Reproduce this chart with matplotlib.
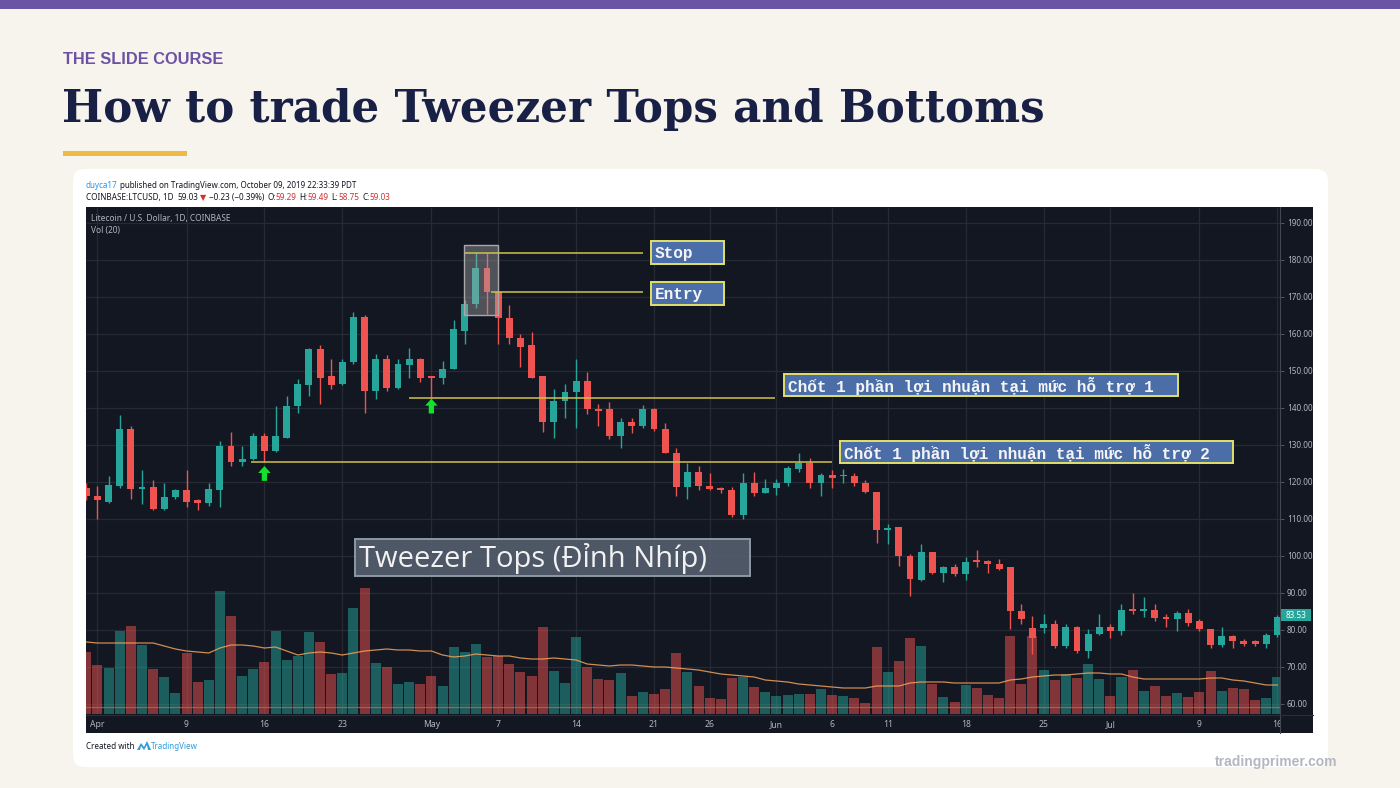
import numpy as np
import pandas as pd
import matplotlib
matplotlib.use('Agg')
import matplotlib.pyplot as plt
import matplotlib.transforms as mtransforms
from matplotlib.patches import Rectangle, FancyBboxPatch, Polygon

# LTC/USD daily candles (Coinbase), 31 Mar - 16 Jul 2019
dates = pd.date_range('2019-03-31', '2019-07-16', freq='D')
opens = [118.4, 116.2, 114.6, 118.9, 134.1, 118.1, 118.6, 112.7, 115.9, 117.6,
         114.9, 114.1, 117.8, 129.5, 125.4, 126.2, 132.4, 128.4, 131.9, 140.3,
         146.2, 155.7, 148.4, 146.5, 152.2, 164.6, 144.6, 153.2, 145.4, 151.6,
         153.2, 148.4, 148.1, 150.5, 160.8, 168.1, 177.6, 171.1, 164.3, 158.9,
         156.8, 148.4, 136.2, 141.9, 144.1, 147.3, 139.7, 139.5, 132.4, 136.2,
         134.9, 139.5, 134.3, 127.8, 118.6, 122.7, 118.9, 118.4, 117.8, 111.1,
         119.5, 117.0, 118.4, 119.5, 123.5, 125.1, 119.5, 121.9, 121.4, 121.6,
         119.7, 117.3, 107.0, 107.6, 100.0, 93.5, 101.1, 95.4, 96.8, 94.9,
         98.6, 98.6, 97.8, 96.8, 85.1, 80.5, 80.5, 81.6, 75.7, 80.8,
         74.1, 78.9, 80.8, 79.7, 85.7, 85.1, 85.4, 83.5, 83.0, 84.6,
         82.2, 80.3, 75.9, 78.4, 76.8, 76.8, 76.2, 78.6]
highs = [119.5, 118.9, 121.6, 138.1, 135.1, 123.0, 120.5, 119.7, 118.1, 123.0,
         115.4, 119.7, 131.1, 133.5, 129.7, 133.2, 133.0, 140.5, 143.2, 147.6,
         156.2, 157.0, 153.0, 153.0, 165.9, 164.9, 154.6, 154.1, 153.2, 156.2,
         153.5, 148.6, 152.7, 163.8, 169.0, 181.9, 181.9, 171.1, 167.8, 160.0,
         160.3, 148.4, 144.9, 146.5, 153.2, 149.5, 141.1, 141.6, 137.3, 137.3,
         140.8, 140.0, 135.7, 129.2, 125.1, 124.3, 122.2, 118.6, 118.6, 122.4,
         122.7, 120.8, 120.8, 124.3, 127.8, 126.5, 122.4, 123.2, 123.5, 122.2,
         120.3, 117.3, 108.6, 107.6, 100.5, 103.2, 101.1, 97.3, 97.8, 99.7,
         101.6, 98.9, 99.2, 96.8, 87.0, 83.8, 84.3, 82.7, 81.6, 81.1,
         80.3, 84.3, 81.4, 87.0, 90.0, 88.9, 86.8, 84.1, 85.1, 85.7,
         83.0, 80.3, 80.8, 78.6, 77.6, 77.3, 79.2, 84.0]
lows = [115.0, 110.0, 114.1, 118.4, 115.4, 114.0, 112.2, 112.4, 115.4, 113.0,
        112.2, 113.5, 113.2, 124.1, 124.3, 125.9, 125.4, 128.1, 131.9, 138.6,
        143.2, 141.1, 144.9, 146.2, 151.9, 138.6, 142.2, 144.6, 144.9, 148.1,
        147.0, 142.7, 146.5, 150.3, 157.3, 166.8, 165.4, 157.3, 157.3, 151.0,
        147.9, 133.5, 131.9, 137.3, 134.6, 138.4, 135.1, 131.6, 129.2, 133.2,
        134.6, 133.8, 127.6, 116.2, 115.4, 117.6, 117.6, 116.8, 110.5, 110.0,
        116.2, 116.8, 116.5, 118.9, 122.7, 118.4, 116.2, 118.4, 119.5, 118.9,
        116.8, 103.5, 103.2, 97.3, 89.2, 93.2, 94.9, 93.0, 94.6, 93.5,
        97.0, 95.4, 96.2, 80.3, 81.6, 73.5, 79.2, 75.1, 75.1, 73.8,
        72.4, 78.6, 77.8, 78.6, 84.1, 83.5, 82.2, 80.8, 79.7, 81.1,
        79.7, 74.9, 75.4, 74.9, 75.7, 75.7, 75.1, 78.0]
closes = [116.2, 114.9, 119.2, 134.1, 118.1, 118.6, 112.7, 115.9, 117.6, 114.6,
          114.1, 118.1, 129.5, 125.4, 126.2, 132.4, 128.4, 132.2, 140.5, 146.5,
          155.7, 148.1, 146.2, 152.4, 164.6, 144.6, 153.2, 145.4, 151.9, 153.2,
          148.1, 148.1, 150.5, 161.1, 168.1, 177.6, 171.1, 164.1, 158.9, 156.5,
          148.1, 136.2, 141.9, 144.3, 147.3, 139.7, 139.2, 132.4, 136.2, 134.9,
          139.5, 134.1, 127.8, 118.6, 122.7, 118.9, 118.1, 117.8, 111.1, 119.5,
          117.0, 118.4, 119.7, 123.8, 125.1, 119.5, 121.9, 121.1, 121.6, 119.7,
          117.3, 107.0, 107.3, 100.0, 93.8, 101.1, 95.4, 96.8, 94.9, 98.4,
          98.4, 97.8, 96.5, 84.9, 83.0, 77.8, 81.6, 75.7, 80.8, 74.1,
          78.9, 80.8, 79.7, 85.4, 84.9, 85.4, 83.2, 83.0, 84.6, 81.9,
          80.3, 75.9, 78.4, 76.8, 76.2, 76.2, 78.6, 83.53]
# volume and its 20-day average, relative units
volumes = [62, 49, 46, 83, 88, 69, 45, 37, 21, 61,
           32, 34, 123, 98, 38, 45, 52, 83, 54, 58,
           82, 72, 40, 41, 106, 126, 51, 47, 30, 32,
           30, 38, 28, 67, 62, 70, 57, 58, 50, 42,
           38, 87, 43, 31, 77, 47, 35, 34, 41, 18,
           22, 20, 25, 61, 42, 28, 16, 15, 36, 37,
           27, 22, 18, 19, 20, 20, 25, 19, 18, 16,
           11, 67, 42, 53, 76, 68, 30, 17, 12, 29,
           26, 19, 16, 78, 30, 78, 44, 34, 40, 36,
           50, 35, 18, 37, 44, 23, 28, 18, 21, 17,
           22, 43, 23, 26, 25, 14, 16, 37]
vol_ma20 = [72, 71, 71, 71, 71, 71, 71, 68, 65, 63,
            62, 61, 66, 69, 69, 68, 66, 67, 63, 59,
            61, 62, 61, 59, 61, 63, 64, 65, 64, 64,
            63, 63, 59, 57, 58, 60, 59, 58, 58, 56,
            55, 55, 56, 55, 54, 50, 49, 48, 49, 49,
            48, 47, 47, 46, 45, 44, 42, 40, 39, 38,
            37, 34, 33, 32, 30, 29, 28, 27, 26, 26,
            26, 28, 28, 28, 31, 32, 32, 32, 31, 31,
            31, 31, 31, 34, 35, 37, 38, 39, 39, 40,
            41, 41, 40, 40, 37, 35, 35, 35, 35, 35,
            35, 36, 36, 34, 33, 31, 29, 29]

tick_dates = ['2019-04-01', '2019-04-09', '2019-04-16', '2019-04-23', '2019-05-01',
              '2019-05-07', '2019-05-14', '2019-05-21', '2019-05-26', '2019-06-01',
              '2019-06-06', '2019-06-11', '2019-06-18', '2019-06-25', '2019-07-01',
              '2019-07-09', '2019-07-16']
tick_labels = ['Apr', '9', '16', '23', 'May', '7', '14', '21', '26', 'Jun',
               '6', '11', '18', '25', 'Jul', '9', '16']
price_ticks = [60, 70, 80, 90, 100, 110, 120, 130, 140, 150, 160, 170, 180, 190]

stop_level = 181.9
entry_level = 171.1
support_1 = 142.7
support_2 = 125.3
last_price = 59.03
last_close = 83.53

GREEN = '#26A69A'
RED = '#EF5350'
BG = '#131722'
GRID = '#262A35'
AXTXT = '#B2B5BE'
SANS = ['Noto Sans', 'DejaVu Sans']

W, H = 1400, 788
fig = plt.figure(figsize=(W / 100, H / 100), dpi=100)
fig.patch.set_facecolor('#F7F4EE')
# pixel coordinates from the top-left corner
px = mtransforms.Affine2D().scale(1, -1).translate(0, H).scale(0.01) + fig.dpi_scale_trans


def rect(x0, y0, x1, y1, **kw):
    r = Rectangle((x0, y0), x1 - x0, y1 - y0, transform=px, **kw)
    fig.add_artist(r)
    return r


def axes_at(x0, y0, x1, y1):
    a = fig.add_axes([x0 / W, 1 - y1 / H, (x1 - x0) / W, (y1 - y0) / H])
    a.set_facecolor('none')
    for s in a.spines.values():
        s.set_visible(False)
    return a


# slide header
rect(0, 0, W, 9, color='#6C54A4', lw=0, zorder=-5)
fig.text(63, 64, 'THE SLIDE COURSE', transform=px, fontsize=11.8, weight='bold',
         color='#6B52A3', family='Liberation Sans', va='baseline')
fig.text(62, 122, 'How to trade Tweezer Tops and Bottoms', transform=px, fontsize=31.4,
         weight='bold', color='#182046', family='DejaVu Serif', va='baseline')
rect(63, 151, 187, 156, color='#EDBB45', lw=0, zorder=-5)

card = FancyBboxPatch((73, 169), 1255, 598, boxstyle='round,pad=0,rounding_size=12',
                      transform=px, facecolor='white', edgecolor='none', zorder=-4)
fig.add_artist(card)
rect(86, 207, 1313, 733, color=BG, lw=0, zorder=-3)

fig.text(1337, 762, 'tradingprimer.com', transform=px, fontsize=10, weight='bold',
         color='#B3B7C0', family='Liberation Sans', ha='right', va='center')

renderer = fig.canvas.get_renderer()


def text_run(x, y, pieces, size):
    for s, color, weight, gap in pieces:
        t = fig.text(x + gap, y, s, transform=px, fontsize=size, color=color,
                     weight=weight, family=SANS, va='baseline')
        bb = t.get_window_extent(renderer)
        x = px.inverted().transform((bb.x1, bb.y0))[0]


DK = '#131722'
text_run(86, 188, [('duyca17', '#2196F3', 'normal', 0),
                   ('published on TradingView.com, October 09, 2019 22:33:39 PDT', DK, 'normal', 2)], 5.8)
text_run(86, 200, [('COINBASE:LTCUSD, 1D', DK, 'bold', 0), ('59.03', DK, 'normal', 4),
                   ('▼', '#D32F2F', 'normal', 2), ('−0.23 (−0.39%)', DK, 'normal', 2),
                   ('O:', DK, 'bold', 3), ('59.29', '#D32F2F', 'normal', 0),
                   ('H:', DK, 'bold', 3), ('59.49', '#D32F2F', 'normal', 0),
                   ('L:', DK, 'bold', 3), ('58.75', '#D32F2F', 'normal', 0),
                   ('C:', DK, 'bold', 3), ('59.03', '#D32F2F', 'normal', 0)], 5.9)
text_run(86, 749, [('Created with', DK, 'normal', 0)], 5.8)
fig.add_artist(Polygon([(137, 750), (141, 743), (144, 747), (147, 741), (151, 750), (148, 750),
                        (147, 745), (144, 750), (141, 746), (140, 750)],
                       closed=True, transform=px, color='#2E9BDA', lw=0))
text_run(151, 749, [('TradingView', '#2E9BDA', 'normal', 0)], 5.8)

# chart panes
x = np.arange(len(dates))
tick_pos = dates.get_indexer(pd.to_datetime(tick_dates))
xlim = (-0.03, 107.24)
ylim = (57.2, 194.2)

ax_bg = axes_at(86, 207, 1280, 714)
ax_bg.set_xlim(xlim)
ax_bg.set_ylim(ylim)
ax_bg.set_xticks([])
ax_bg.set_yticks([])
ax_bg.vlines(tick_pos, 0, 1, transform=ax_bg.get_xaxis_transform(), color=GRID, lw=0.9)
ax_bg.hlines(price_ticks, 0, 1, transform=ax_bg.get_yaxis_transform(), color=GRID, lw=0.9)

up = np.array(closes) >= np.array(opens)
ax_vol = axes_at(86, 207, 1280, 714)
ax_vol.set_xlim(xlim)
ax_vol.set_ylim(0, 507)
ax_vol.set_xticks([])
ax_vol.set_yticks([])
ax_vol.bar(x, volumes, width=0.9, color=np.where(up, GREEN, RED), alpha=0.5, lw=0)
ax_vol.plot(x, vol_ma20, color='#F2A25A', lw=0.9, alpha=0.85)

ax = axes_at(86, 207, 1280, 714)
ax.set_xlim(xlim)
ax.set_ylim(ylim)
ax.set_xticks([])
cols = np.where(up, GREEN, RED)
body_lo = np.minimum(opens, closes)
body_h = np.maximum(np.abs(np.array(closes) - np.array(opens)), 0.35)
ax.vlines(x, lows, highs, colors=cols, lw=1, zorder=2)
ax.bar(x, body_h, bottom=body_lo, width=0.62, color=cols, lw=0, zorder=3)
ax.axhline(last_price, color='#C8684A', lw=1, alpha=0.7, zorder=1)

ax.yaxis.tick_right()
ax.set_yticks(price_ticks)
ax.set_yticklabels([f'{v:.2f}' for v in price_ticks])
ax.tick_params(axis='y', length=3, width=0.6, pad=2, color='#5D606B',
               labelcolor=AXTXT, labelsize=5.9)
for lab in ax.get_yticklabels():
    lab.set_family(SANS)

# trade annotations
hl = '#CFC34A'
ax.add_patch(Rectangle((33.95, 165.1), 3.03, 18.7, facecolor=(0.65, 0.65, 0.65, 0.42),
                       edgecolor='#A8A8A8', lw=1, zorder=4))
ax.hlines(stop_level, 34.0, 50.0, color=hl, lw=1.1, zorder=5)
ax.hlines(entry_level, 36.4, 50.0, color=hl, lw=1.1, zorder=5)
ax.hlines(support_1, 29.0, 61.9, color=hl, lw=1.1, zorder=5)
ax.hlines(support_2, 14.8, 67.0, color=hl, lw=1.1, zorder=5)
for xi, lo in [(16, 120.2), (31, 138.4)]:
    ax.annotate('', xy=(xi, lo + 4.0), xytext=(xi, lo),
                arrowprops=dict(arrowstyle='simple,head_width=0.9,head_length=0.5,tail_width=0.38',
                                color='#14E02E', lw=0, shrinkA=0, shrinkB=0), zorder=6)

mono = ['Liberation Mono', 'DejaVu Sans Mono']
for (x0, y0, x1, y1, label) in [(651, 241, 724, 264, 'Stop'),
                                (651, 282, 724, 305, 'Entry'),
                                (784, 374, 1178, 396, 'Chốt 1 phần lợi nhuận tại mức hỗ trợ 1'),
                                (840, 441, 1233, 463, 'Chốt 1 phần lợi nhuận tại mức hỗ trợ 2')]:
    rect(x0, y0, x1, y1, facecolor='#4B6EA9', edgecolor='#E2E06A', lw=1.4, zorder=6)
    fig.text(x0 + 4, (y0 + y1) / 2 + 1, label, transform=px, fontsize=11.6, weight='bold',
             color='#F4F4F4', family=mono, va='center', zorder=7)

rect(355, 539, 750, 576, facecolor=(0.35, 0.39, 0.45, 0.85), edgecolor='#8E97A4', lw=1.4, zorder=6)
fig.text(359, 558, 'Tweezer Tops (Đỉnh Nhíp)', transform=px, fontsize=21, color='#F2F2F2',
         family=['Open Sans', 'Noto Sans', 'DejaVu Sans'], va='center', zorder=7)

fig.text(91, 218, 'Litecoin / U.S. Dollar, 1D, COINBASE', transform=px, fontsize=6.0,
         color=AXTXT, family=SANS, va='center')
fig.text(91, 230, 'Vol (20)', transform=px, fontsize=6.0, color=AXTXT, family=SANS, va='center')

# time scale
ax_date = axes_at(86, 714, 1280, 733)
ax_date.set_xlim(xlim)
ax_date.set_ylim(0, 1)
ax_date.set_xticks([])
ax_date.set_yticks([])
for p, lab in zip(tick_pos, tick_labels):
    ax_date.text(p, 0.45, lab, ha='center', va='center', fontsize=6.2, color=AXTXT,
                 family=SANS, weight='semibold', clip_on=True)

# pane borders and last-price tag
fig.add_artist(plt.Line2D([1280, 1280], [207, 733], transform=px, color='#434651', lw=0.8))
fig.add_artist(plt.Line2D([86, 1313], [714.5, 714.5], transform=px, color='#2A2E39', lw=0.8))
rect(1281, 609, 1311, 621, color=GREEN, lw=0, zorder=6)
fig.text(1296, 615, f'{last_close:.2f}', transform=px, fontsize=5.9, color='white',
         family=SANS, ha='center', va='center', zorder=7)

fig.savefig('out.png', dpi=100, facecolor=fig.get_facecolor())
